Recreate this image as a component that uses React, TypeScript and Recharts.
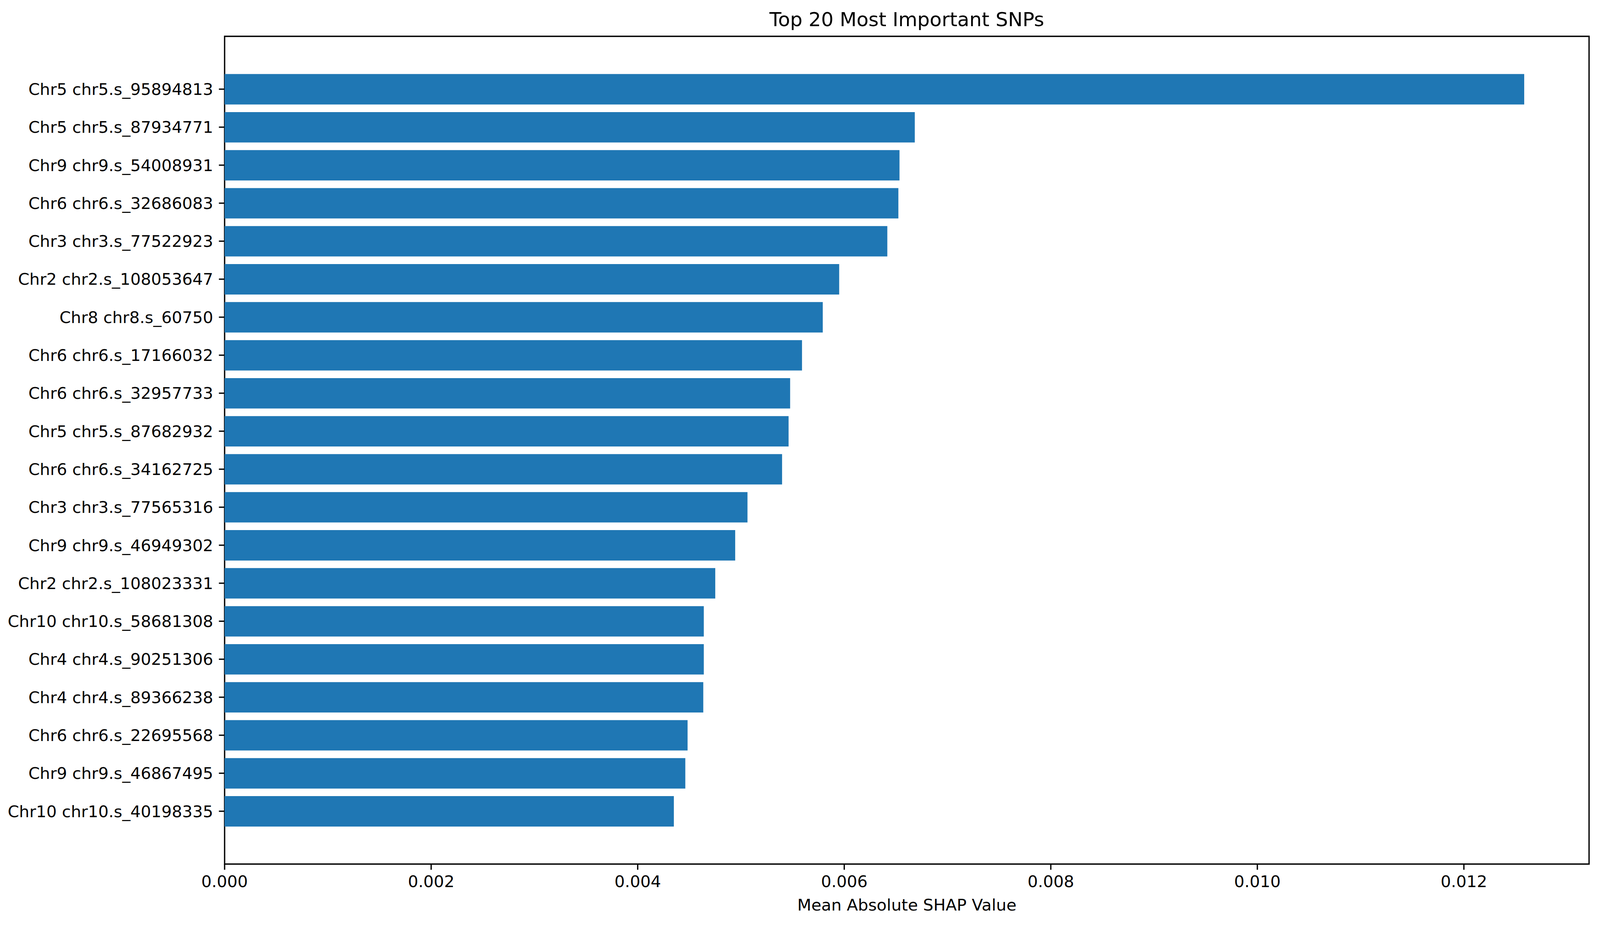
import React from 'react';
import {
  BarChart,
  Bar,
  XAxis,
  YAxis,
  ReferenceArea,
  Label,
} from 'recharts';

// SNP names, top to bottom
const snpLabels = [
  'Chr5 chr5.s_95894813',
  'Chr5 chr5.s_87934771',
  'Chr9 chr9.s_54008931',
  'Chr6 chr6.s_32686083',
  'Chr3 chr3.s_77522923',
  'Chr2 chr2.s_108053647',
  'Chr8 chr8.s_60750',
  'Chr6 chr6.s_17166032',
  'Chr6 chr6.s_32957733',
  'Chr5 chr5.s_87682932',
  'Chr6 chr6.s_34162725',
  'Chr3 chr3.s_77565316',
  'Chr9 chr9.s_46949302',
  'Chr2 chr2.s_108023331',
  'Chr10 chr10.s_58681308',
  'Chr4 chr4.s_90251306',
  'Chr4 chr4.s_89366238',
  'Chr6 chr6.s_22695568',
  'Chr9 chr9.s_46867495',
  'Chr10 chr10.s_40198335',
];

const shapValues = [
  0.012584, 0.006683, 0.006535, 0.006524, 0.006417, 0.005951, 0.005792,
  0.005591, 0.005476, 0.005461, 0.005398, 0.005063, 0.004944, 0.004751,
  0.00464, 0.00464, 0.004635, 0.004483, 0.004461, 0.00435,
];

const xTicks = [0, 0.002, 0.004, 0.006, 0.008, 0.01, 0.012];
const xMax = 0.013212;

// the browser viewport is 4096 wide, so the 4168-wide layout is squeezed to fit
const W = 4096;
const H = 2368;
const sx = W / 4168;
const FONT = '"DejaVu Sans", Verdana, sans-serif';
const FS = 41.67;
const TICK = 14.6;
const LW = 3.33;
const BLUE = '#1f77b4';

const plotTop = 93;
const plotLeft = Math.round(585 * sx);
const plotRight = Math.round(4139 * sx);
const plotBottom = 2212;

// matplotlib-style y limits around bars of height 0.8
const yMin = -1.39;
const yMax = snpLabels.length - 1 + 1.39;
const barSize = ((plotBottom - plotTop) / (yMax - yMin)) * 0.8;

const data = snpLabels.map((name, i) => ({
  rank: i,
  name,
  value: shapValues[i],
}));
const ranks = data.map((d) => d.rank);

export default function App() {
  return (
    <div style={{ position: 'relative', width: W, height: H, background: '#fff' }}>
      <style>{'html,body{margin:0;padding:0;overflow:hidden;}'}</style>
      <div
        style={{
          position: 'absolute',
          left: plotLeft,
          width: plotRight - plotLeft,
          top: 25,
          lineHeight: '50px',
          textAlign: 'center',
          fontFamily: FONT,
          fontSize: 50,
          color: '#000',
        }}
      >
        Top 20 Most Important SNPs
      </div>
      <BarChart
        width={W}
        height={H}
        data={data}
        layout="vertical"
        margin={{ top: plotTop, right: W - plotRight, bottom: 0, left: 0 }}
      >
        <XAxis
          type="number"
          dataKey="value"
          domain={[0, xMax]}
          ticks={xTicks}
          tickFormatter={(v: number) => v.toFixed(3)}
          height={H - plotBottom}
          axisLine={false}
          tickLine={{ stroke: '#000', strokeWidth: LW }}
          tickSize={TICK}
          tickMargin={TICK}
          tick={{ fill: '#000', fontSize: FS, fontFamily: FONT }}
          interval={0}
        >
          <Label
            value="Mean Absolute SHAP Value"
            position="insideBottom"
            offset={37}
            fill="#000"
            fontSize={FS}
            fontFamily={FONT}
          />
        </XAxis>
        <YAxis
          type="number"
          dataKey="rank"
          domain={[yMin, yMax]}
          ticks={ranks}
          interval={0}
          tickFormatter={(i: number) => snpLabels[i] ?? ''}
          width={plotLeft}
          axisLine={false}
          tickLine={{ stroke: '#000', strokeWidth: LW }}
          tickSize={TICK}
          tickMargin={TICK}
          tick={{ fill: '#000', fontSize: FS, fontFamily: FONT }}
        />
        <Bar
          dataKey="value"
          fill={BLUE}
          barSize={barSize}
          isAnimationActive={false}
        />
        <ReferenceArea
          x1={0}
          x2={xMax}
          y1={yMin}
          y2={yMax}
          fill="none"
          fillOpacity={0}
          stroke="#000"
          strokeWidth={LW}
          ifOverflow="visible"
        />
      </BarChart>
    </div>
  );
}
